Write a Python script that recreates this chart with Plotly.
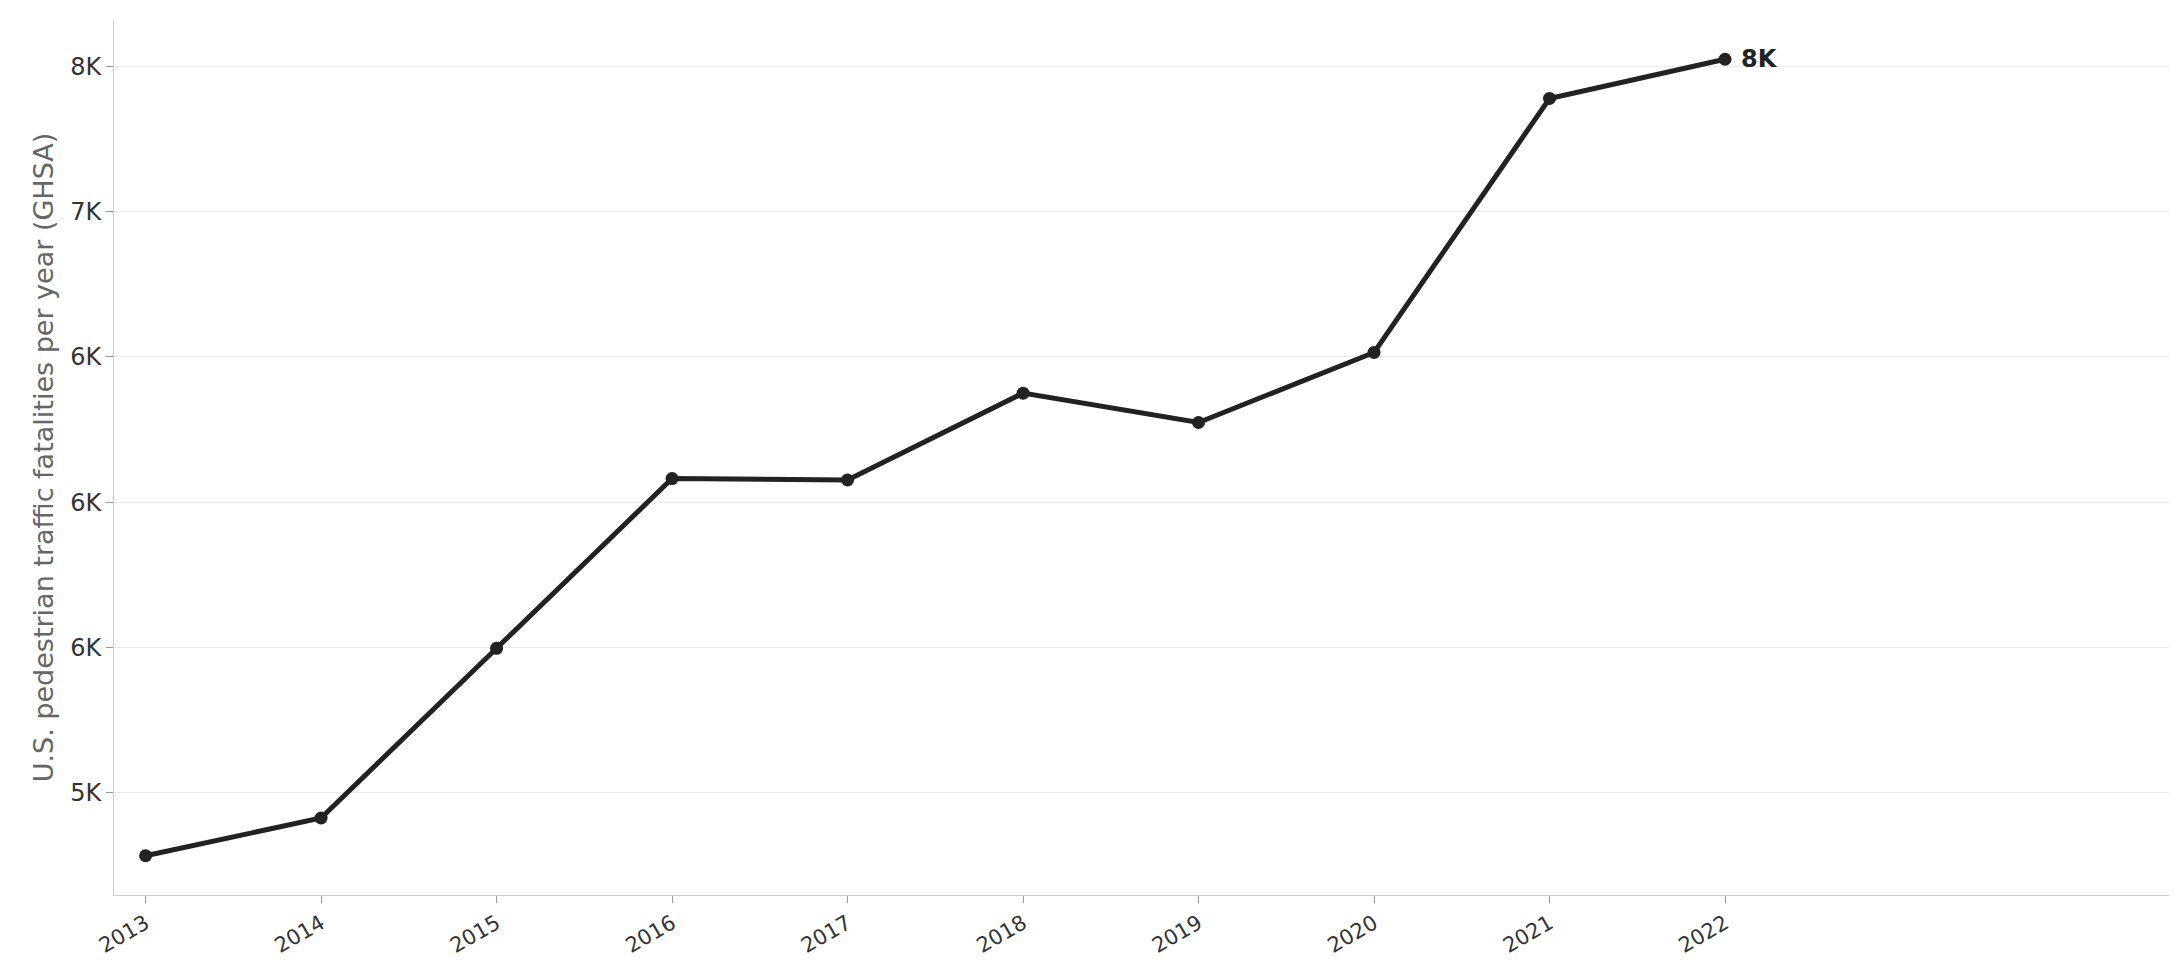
import plotly.graph_objects as go

# values
years = [2013, 2014, 2015, 2016, 2017, 2018, 2019, 2020, 2021, 2022]
fatalities = [5283, 5413, 5997, 6581, 6576, 6875, 6774, 7015, 7889, 8024]
tick_vals = [5500, 6000, 6500, 7000, 7500, 8000]
tick_text = ['5K', '6K', '6K', '6K', '7K', '8K']

fig = go.Figure(go.Scatter(
    x=years, y=fatalities, mode='lines+markers',
    line=dict(color='#222222', width=5),
    marker=dict(color='#222222', size=13),
    hoverinfo='x+y',
))

fig.add_annotation(x=years[-1], y=fatalities[-1], text='<b>8K</b>',
                   showarrow=False, xanchor='left', xshift=14,
                   font=dict(size=24, color='#222222'))

fig.update_layout(
    width=2179, height=980,
    plot_bgcolor='white', paper_bgcolor='white',
    font=dict(family='DejaVu Sans', color='#333333'),
    margin=dict(l=106, r=18, t=12, b=93),
    showlegend=False,
)
fig.update_xaxes(
    range=[2012.82, 2024.53], tickvals=years, tickangle=-30,
    tickfont=dict(size=21), ticks='outside', ticklen=7, tickcolor='#999999',
    showgrid=False, showline=True, linecolor='#cccccc', zeroline=False,
)
fig.update_yaxes(
    range=[5148, 8159], tickvals=tick_vals, ticktext=tick_text,
    tickfont=dict(size=24), ticks='outside', ticklen=7, tickcolor='#999999',
    showgrid=True, gridcolor='#ebebeb', showline=True, linecolor='#cccccc',
    zeroline=False,
    title=dict(text='U.S. pedestrian traffic fatalities per year (GHSA)',
               font=dict(size=27, color='#666666'), standoff=8),
)

fig.write_html("out.html")
